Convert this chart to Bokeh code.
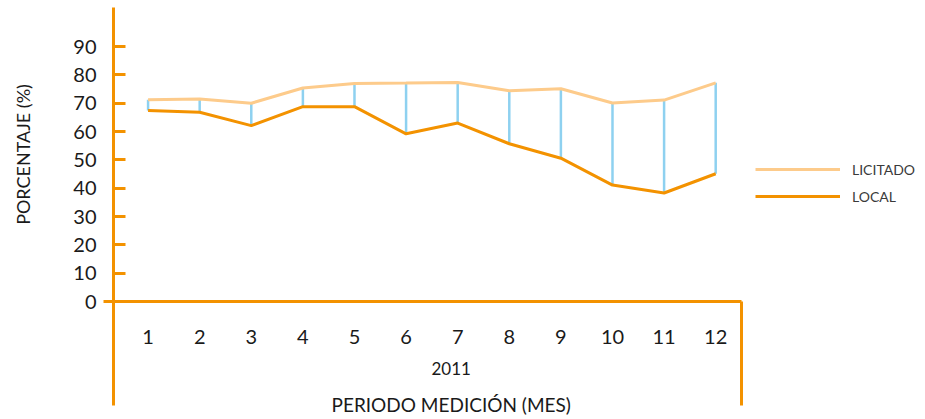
from bokeh.plotting import figure
from bokeh.models import Range1d, FixedTicker, Legend, LegendItem, Title
from bokeh.embed import file_html
from bokeh.resources import INLINE

# ---- data ----
months = [1, 2, 3, 4, 5, 6, 7, 8, 9, 10, 11, 12]
month_labels = ["1", "2", "3", "4", "5", "6", "7", "8", "9", "10", "11", "12"]
licitado = [71.2, 71.5, 70.0, 75.4, 77.0, 77.1, 77.3, 74.4, 75.1, 70.1, 71.1, 77.2]
local = [67.4, 66.8, 62.1, 68.8, 68.8, 59.2, 63.0, 55.7, 50.6, 41.1, 38.3, 45.1]
y_ticks = [0, 10, 20, 30, 40, 50, 60, 70, 80, 90]
series_names = ["LICITADO", "LOCAL"]
year_text = "2011"
x_title = "PERIODO MEDICIÓN (MES)"
y_title = "PORCENTAJE (%)"

# ---- styles ----
AXIS = "#F39200"
LIC = "#FDCB8B"
LOC = "#F39200"
LINK = "#8ED1F0"
FONT = "Lato"
TXT = "#1a1a1a"

x_start, x_end = 0.33, 12.5
y_start, y_end = 0, 103.8
DROP = 104  # length of the vertical frame lines below the x axis (px)

p = figure(frame_width=628, frame_height=294,
           min_border_left=113, min_border_right=184,
           min_border_top=7, min_border_bottom=118,
           x_range=Range1d(x_start, x_end), y_range=Range1d(y_start, y_end),
           toolbar_location=None, output_backend="svg")
p.xgrid.visible = False
p.ygrid.visible = False
p.outline_line_color = None
p.background_fill_color = "white"
p.border_fill_color = "white"

# y axis
yax = p.yaxis[0]
yax.ticker = FixedTicker(ticks=y_ticks, minor_ticks=[y_start])
yax.axis_line_color = AXIS
yax.axis_line_width = 3
yax.major_tick_in = 12
yax.major_tick_out = 0
yax.major_tick_line_color = AXIS
yax.major_tick_line_width = 3
yax.minor_tick_in = 0
yax.minor_tick_out = 10
yax.minor_tick_line_color = AXIS
yax.minor_tick_line_width = 3
yax.major_label_standoff = 7
yax.major_label_text_font = FONT
yax.major_label_text_font_size = "20px"
yax.major_label_text_color = TXT
yax.axis_label = y_title
yax.axis_label_standoff = 36
yax.axis_label_text_font = FONT
yax.axis_label_text_font_size = "18px"
yax.axis_label_text_font_style = "normal"
yax.axis_label_text_color = TXT

# x axis
xax = p.xaxis[0]
xax.ticker = FixedTicker(ticks=months, minor_ticks=[x_start + 0.004, x_end - 0.004])
xax.major_label_overrides = {m: lab for m, lab in zip(months, month_labels)}
xax.axis_line_color = AXIS
xax.axis_line_width = 3
xax.major_tick_line_color = None
xax.major_tick_in = 0
xax.major_tick_out = 0
xax.minor_tick_in = 0
xax.minor_tick_out = DROP
xax.minor_tick_line_color = AXIS
xax.minor_tick_line_width = 3
xax.major_label_standoff = 28 - DROP
xax.major_label_text_font = FONT
xax.major_label_text_font_size = "20px"
xax.major_label_text_color = TXT

# connectors and lines
p.segment(x0=months, y0=local, x1=months, y1=licitado, line_color=LINK, line_width=2.5)
r_lic = p.line(months, licitado, line_color=LIC, line_width=3)
r_loc = p.line(months, local, line_color=LOC, line_width=3)

legend = Legend(items=[LegendItem(label=series_names[0], renderers=[r_lic]),
                       LegendItem(label=series_names[1], renderers=[r_loc])],
                location=(14, 95), glyph_width=85, glyph_height=20, label_height=20,
                label_standoff=12, spacing=7, padding=0, margin=0,
                border_line_color=None, background_fill_alpha=0,
                label_text_font=FONT, label_text_font_size="14px",
                label_text_color="#3a3a3a")
p.add_layout(legend, "right")

p.add_layout(Title(text=year_text, align="left", offset=318, standoff=26,
                   text_font=FONT, text_font_size="17px", text_font_style="normal",
                   text_color=TXT), "below")
p.add_layout(Title(text=x_title, align="left", offset=218, standoff=6,
                   text_font=FONT, text_font_size="19px", text_font_style="normal",
                   text_color=TXT), "below")

open("out.html", "w").write(file_html(p, INLINE))
